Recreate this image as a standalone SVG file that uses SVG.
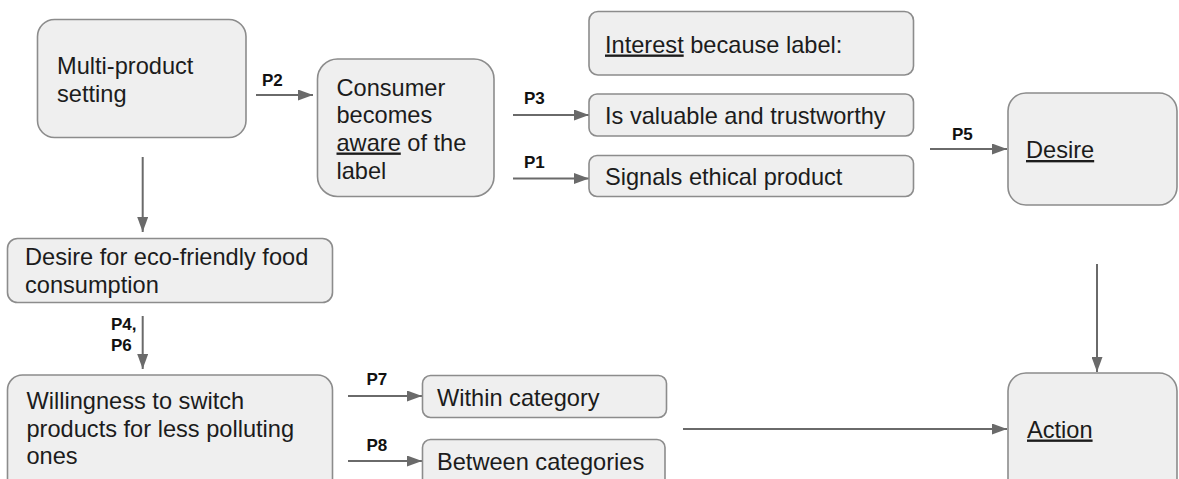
<svg xmlns="http://www.w3.org/2000/svg" width="1179" height="479" viewBox="0 0 1179 479">
<defs>
<style>
.box{fill:#efefef;stroke:#8c8c8c;stroke-width:1.6}
.t{font-family:"Liberation Sans",Arial,sans-serif;font-size:23.6px;fill:#1c1c1c}
.u{text-decoration:underline}
.lbl{font-family:"Liberation Sans",Arial,sans-serif;font-size:17px;font-weight:bold;fill:#111}
.c{stroke:#6a6a6a;stroke-width:2;fill:none;marker-end:url(#ah)}
</style>
<marker id="ah" markerWidth="15" markerHeight="11" refX="15" refY="5.5" orient="auto" markerUnits="userSpaceOnUse">
<path d="M0,0 L15,5.5 L0,11 z" fill="#6a6a6a"/>
</marker>
</defs>
<rect width="1179" height="479" fill="#ffffff"/>

<g id="connectors">
<line class="c" x1="256" y1="95" x2="313" y2="95"/>
<text class="lbl" x="262" y="85.5">P2</text>
<line class="c" x1="513" y1="115" x2="589" y2="115"/>
<text class="lbl" x="524" y="104">P3</text>
<line class="c" x1="513" y1="178.5" x2="589" y2="178.5"/>
<text class="lbl" x="524" y="168">P1</text>
<line class="c" x1="930" y1="149" x2="1007" y2="149"/>
<text class="lbl" x="952" y="139.5">P5</text>
<line class="c" x1="142.7" y1="157" x2="142.7" y2="232"/>
<line class="c" x1="142.7" y1="316" x2="142.7" y2="369"/>
<text class="lbl" x="111" y="329.5">P4,</text>
<text class="lbl" x="111" y="350.5">P6</text>
<line class="c" x1="348" y1="396" x2="422" y2="396"/>
<text class="lbl" x="366.5" y="385">P7</text>
<line class="c" x1="348" y1="461" x2="422" y2="461"/>
<text class="lbl" x="366.5" y="450.5">P8</text>
<line class="c" x1="683" y1="429" x2="1007" y2="429"/>
<line class="c" x1="1097" y1="264" x2="1097" y2="372"/>
</g>

<g id="n-multi">
<rect class="box" x="37.5" y="19.5" width="208.5" height="118" rx="17"/>
<text class="t" x="57" y="74">Multi-product</text>
<text class="t" x="57" y="102">setting</text>
</g>
<g id="n-consumer">
<rect class="box" x="317.5" y="59" width="176.5" height="137.5" rx="20"/>
<text class="t" x="336.5" y="95.5">Consumer</text>
<text class="t" x="336.5" y="123">becomes</text>
<text class="t" x="336.5" y="150.5"><tspan class="u">aware</tspan> of the</text>
<text class="t" x="336.5" y="178.5">label</text>
</g>
<g id="n-interest">
<rect class="box" x="589" y="11.5" width="324.5" height="63.5" rx="9"/>
<text class="t" x="605" y="52.5"><tspan class="u">Interest</tspan> because label:</text>
</g>
<g id="n-valuable">
<rect class="box" x="589" y="94" width="324.5" height="42" rx="8"/>
<text class="t" x="605" y="124">Is valuable and trustworthy</text>
</g>
<g id="n-signals">
<rect class="box" x="589" y="155.5" width="324.5" height="41" rx="8"/>
<text class="t" x="605" y="184.5">Signals ethical product</text>
</g>
<g id="n-desire">
<rect class="box" x="1008" y="93" width="169" height="112" rx="18"/>
<text class="t u" x="1026" y="158">Desire</text>
</g>
<g id="n-eco">
<rect class="box" x="7.5" y="238.5" width="325" height="64" rx="10"/>
<text class="t" x="25" y="265">Desire for eco-friendly food</text>
<text class="t" x="25" y="293">consumption</text>
</g>
<g id="n-willing">
<rect class="box" x="7.5" y="375" width="325" height="120" rx="15"/>
<text class="t" x="26.5" y="409">Willingness to switch</text>
<text class="t" x="26.5" y="436.5">products for less polluting</text>
<text class="t" x="26.5" y="463.5">ones</text>
</g>
<g id="n-within">
<rect class="box" x="422.5" y="375.5" width="244" height="42" rx="8"/>
<text class="t" x="437" y="405.5">Within category</text>
</g>
<g id="n-between">
<rect class="box" x="422.5" y="439.5" width="242.5" height="50" rx="8"/>
<text class="t" x="437" y="470">Between categories</text>
</g>
<g id="n-action">
<rect class="box" x="1008" y="373" width="169" height="130" rx="18"/>
<text class="t u" x="1027" y="437.5">Action</text>
</g>
</svg>
